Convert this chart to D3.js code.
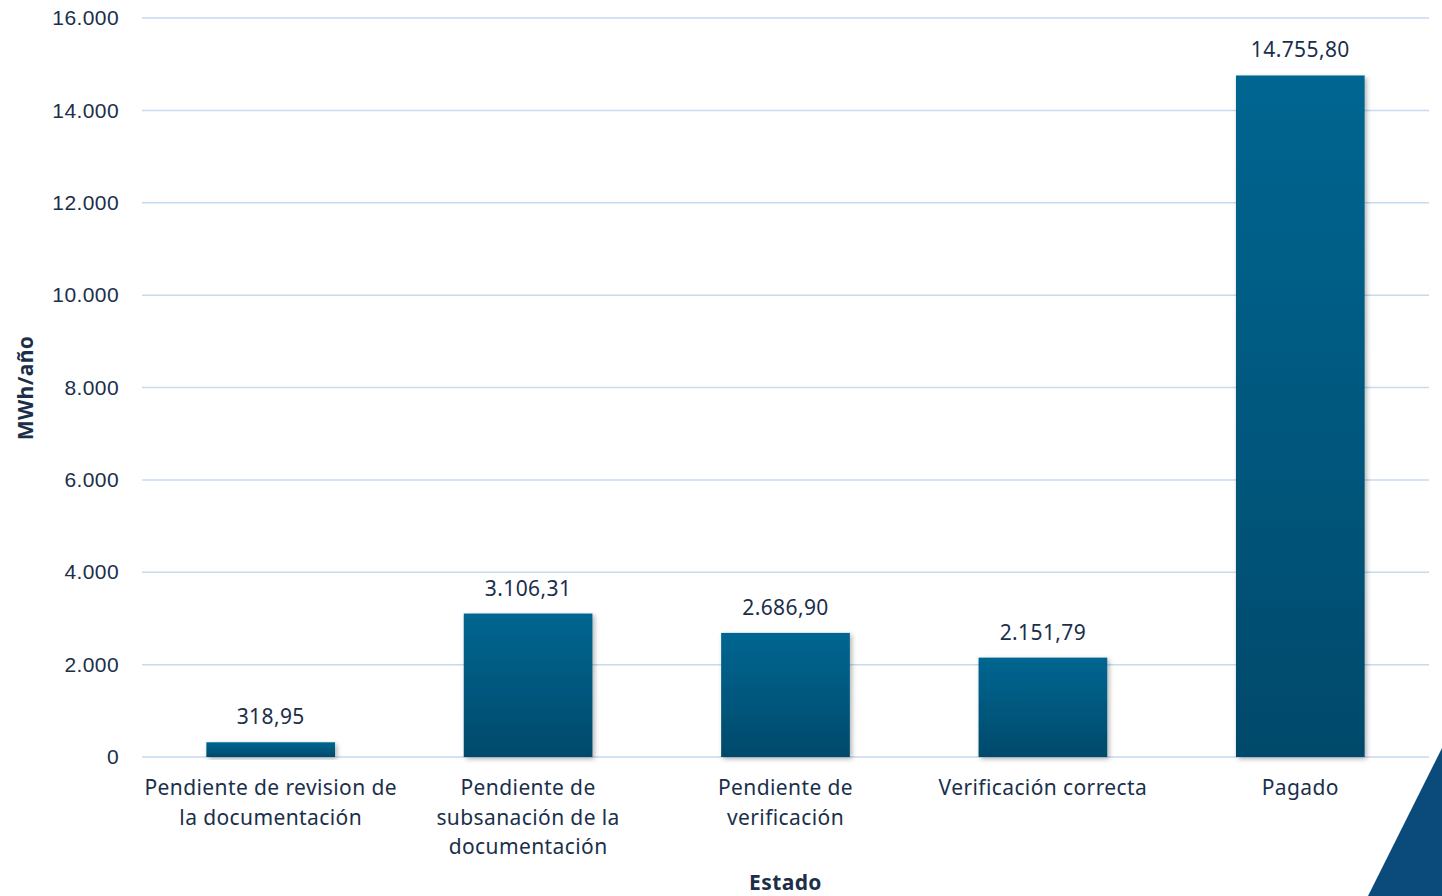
<!DOCTYPE html>
<html>
<head>
<meta charset="utf-8">
<script src="https://cdn.jsdelivr.net/npm/d3@7"></script>
<style>
  body { margin: 0; background: #fff; }
  svg { display: block; font-family: "Noto Sans", "Open Sans", sans-serif; }
  svg text { letter-spacing: 0.4px; }
</style>
</head>
<body>
<div id="chart"></div>
<script>
// data
const categories = [
  "Pendiente de revision de la documentación",
  "Pendiente de subsanación de la documentación",
  "Pendiente de verificación",
  "Verificación correcta",
  "Pagado"
];
// wrapped lines as shown under each bar
const categoryLines = [
  ["Pendiente de revision de", "la documentación"],
  ["Pendiente de", "subsanación de la", "documentación"],
  ["Pendiente de", "verificación"],
  ["Verificación correcta"],
  ["Pagado"]
];
const values = [318.95, 3106.31, 2686.90, 2151.79, 14755.80];
const yTicks = [0, 2000, 4000, 6000, 8000, 10000, 12000, 14000, 16000];

const W = 1442, H = 896;
const margin = { top: 18, right: 13, bottom: 139, left: 142 };
const width = W - margin.left - margin.right,
  height = H - margin.top - margin.bottom;

const textColor = "#1b2f4b";
const fontSize = "21px";

const locale = d3.formatLocale({ decimal: ",", thousands: ".", grouping: [3], currency: ["", "€"] });
const fmtTick = locale.format(",.0f");
const fmtVal = locale.format(",.2f");

const svg = d3.select("#chart")
  .append("svg")
  .attr("width", W)
  .attr("height", H);

const defs = svg.append("defs");
const grad = defs.append("linearGradient")
  .attr("id", "barGrad")
  .attr("x1", 0).attr("y1", 0).attr("x2", 0).attr("y2", 1);
grad.append("stop").attr("offset", "0%").attr("stop-color", "#036691");
grad.append("stop").attr("offset", "100%").attr("stop-color", "#024a6b");

const shadow = defs.append("filter").attr("id", "shadow")
  .attr("x", "-10%").attr("y", "-10%").attr("width", "130%").attr("height", "130%");
shadow.append("feDropShadow")
  .attr("dx", 2).attr("dy", 2).attr("stdDeviation", 2.5)
  .attr("flood-color", "#000").attr("flood-opacity", 0.3);

// decorative corner triangle
svg.append("path")
  .attr("d", `M${W},748 L${W},${H} L1368,${H} Z`)
  .attr("fill", "#0b4b7b");

const g = svg.append("g")
  .attr("transform", "translate(" + margin.left + "," + margin.top + ")");

const x = d3.scaleBand()
  .domain(categories)
  .range([0, width])
  .paddingInner(0.5)
  .paddingOuter(0.25);

const y = d3.scaleLinear()
  .domain([0, 16000])
  .range([height, 0]);

// gridlines
g.append("g")
  .selectAll("line")
  .data(yTicks)
  .join("line")
  .attr("x1", 0)
  .attr("x2", width)
  .attr("y1", d => y(d))
  .attr("y2", d => y(d))
  .attr("stroke", "#c6daf1")
  .attr("stroke-width", 1.5);

// y axis labels
const yAxis = g.append("g")
  .call(d3.axisLeft(y).tickValues(yTicks).tickFormat(fmtTick).tickSize(0).tickPadding(23));
yAxis.select(".domain").remove();
yAxis.selectAll("text")
  .attr("fill", textColor)
  .style("font-size", fontSize);

// bars
g.append("g")
  .selectAll("rect")
  .data(values)
  .join("rect")
  .attr("x", (d, i) => x(categories[i]))
  .attr("y", d => y(d))
  .attr("width", x.bandwidth())
  .attr("height", d => height - y(d))
  .attr("fill", "url(#barGrad)")
  .attr("filter", "url(#shadow)");

// value labels
g.append("g")
  .selectAll("text")
  .data(values)
  .join("text")
  .attr("x", (d, i) => x(categories[i]) + x.bandwidth() / 2)
  .attr("y", d => y(d) - 18)
  .attr("text-anchor", "middle")
  .attr("fill", textColor)
  .style("font-size", fontSize)
  .text(d => fmtVal(d));

// category labels
const cat = g.append("g")
  .selectAll("text")
  .data(categoryLines)
  .join("text")
  .attr("x", (d, i) => x(categories[i]) + x.bandwidth() / 2)
  .attr("y", height + 38)
  .attr("text-anchor", "middle")
  .attr("fill", textColor)
  .style("font-size", fontSize);
cat.selectAll("tspan")
  .data(d => d)
  .join("tspan")
  .attr("x", function () { return this.parentNode.getAttribute("x"); })
  .attr("dy", (d, i) => i === 0 ? 0 : 29.5)
  .text(d => d);

// axis titles
svg.append("text")
  .attr("x", margin.left + width / 2)
  .attr("y", 890)
  .attr("text-anchor", "middle")
  .attr("fill", textColor)
  .style("font-size", fontSize)
  .style("font-weight", "bold")
  .text("Estado");

svg.append("text")
  .attr("transform", "translate(33,388) rotate(-90)")
  .attr("text-anchor", "middle")
  .attr("fill", textColor)
  .style("font-size", fontSize)
  .style("font-weight", "bold")
  .text("MWh/año");
</script>
</body>
</html>
